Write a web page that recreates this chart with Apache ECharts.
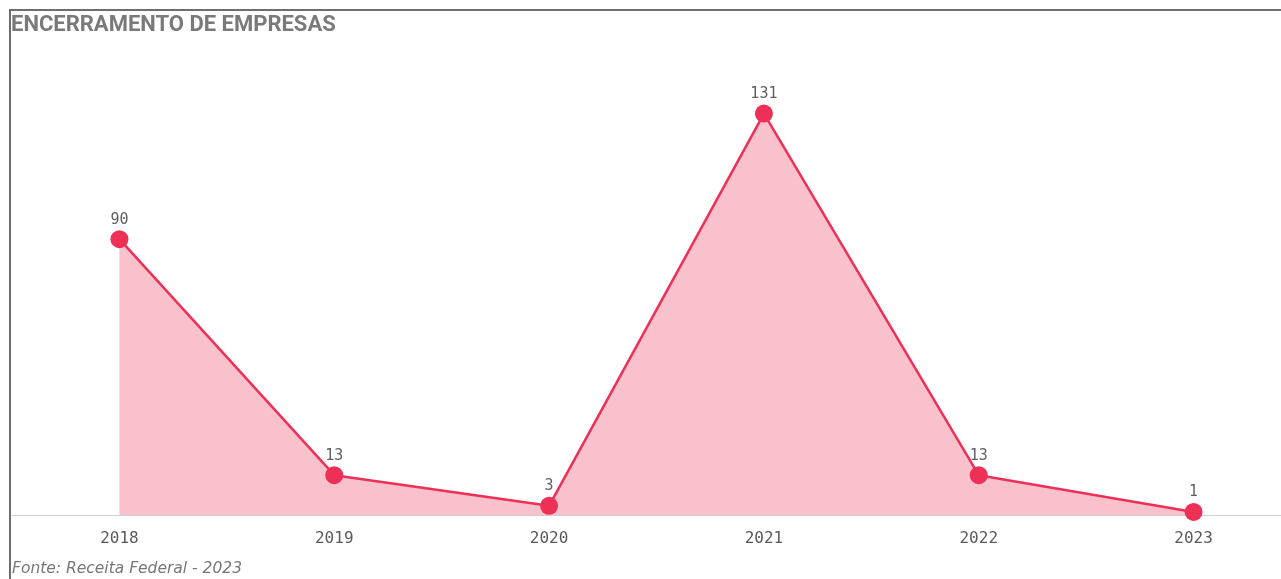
<!DOCTYPE html>
<html>
<head>
<meta charset="utf-8">
<script src="https://cdn.jsdelivr.net/npm/echarts@6/dist/echarts.min.js"></script>
<style>
html,body{margin:0;padding:0;background:#fff;overflow:hidden;width:1281px;height:579px;}
#chart{position:absolute;left:0;top:0;width:1302px;height:579px;}
#frame{position:absolute;left:9px;top:9px;width:1280px;height:580px;border-left:2px solid #6e6e6e;border-top:2px solid #6e6e6e;pointer-events:none;}
</style>
</head>
<body>
<div id="chart"></div>
<div id="frame"></div>
<script>
const categories = ['2018', '2019', '2020', '2021', '2022', '2023'];
const values = [90, 13, 3, 131, 13, 1];
const titleText = 'ENCERRAMENTO DE EMPRESAS';
const sourceText = 'Fonte: Receita Federal - 2023';

const chart = echarts.init(document.getElementById('chart'));
chart.setOption({
  animation: false,
  title: [
    { text: titleText, left: 11, top: 14, padding: 0,
      textStyle: { fontFamily: 'Roboto', fontWeight: 'bold', fontSize: 22, color: '#7a7a7a' } },
    { text: sourceText, left: 12, top: 561, padding: 0,
      textStyle: { fontFamily: 'DejaVu Sans', fontStyle: 'italic', fontWeight: 'normal', fontSize: 15.5, color: '#777' } }
  ],
  grid: { left: 12, top: 86, width: 1289, height: 429 },
  xAxis: {
    type: 'category',
    data: categories,
    boundaryGap: true,
    axisLine: { lineStyle: { color: '#d0d0d0', width: 1 } },
    axisTick: { show: false },
    axisLabel: { fontFamily: 'DejaVu Sans Mono', fontSize: 16, color: '#5a5a5a', margin: 16 }
  },
  yAxis: {
    type: 'value', min: 0, max: 140,
    show: false, splitLine: { show: false }
  },
  series: [{
    type: 'line',
    data: values,
    symbol: 'circle',
    symbolSize: 18,
    itemStyle: { color: '#ee3057' },
    lineStyle: { color: '#ee3057', width: 2.5 },
    areaStyle: { color: '#f9c1cc', opacity: 1 },
    label: { show: true, position: 'top', distance: 3,
      fontFamily: 'DejaVu Sans Mono', fontSize: 15, color: '#5f5f5f' }
  }]
});
</script>
</body>
</html>
